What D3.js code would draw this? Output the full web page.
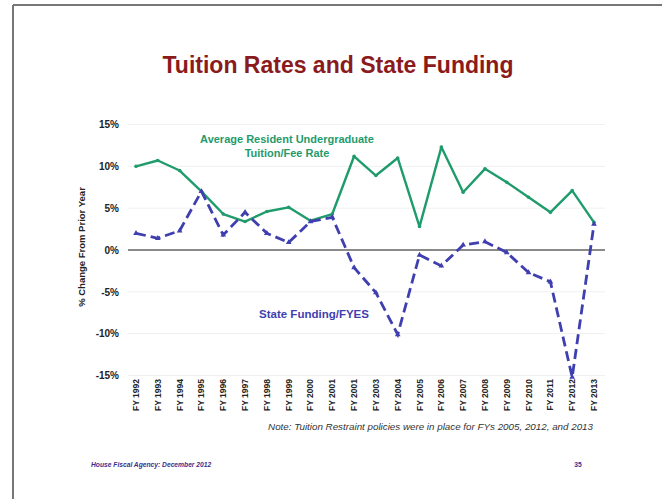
<!DOCTYPE html>
<html><head><meta charset="utf-8">
<script src="https://cdn.jsdelivr.net/npm/d3@7"></script>
<style>body{margin:0;background:#fff}svg{display:block}text{font-family:Arial,"Liberation Sans",sans-serif}</style>
</head><body>
<svg id="c" width="662" height="499"></svg>
<script>
const categories = ["FY 1992","FY 1993","FY 1994","FY 1995","FY 1996","FY 1997","FY 1998","FY 1999","FY 2000","FY 2001","FY 2001","FY 2003","FY 2004","FY 2005","FY 2006","FY 2007","FY 2008","FY 2009","FY 2010","FY 2011","FY 2012","FY 2013"];
const tuition = [10.0,10.7,9.5,7.0,4.3,3.4,4.6,5.1,3.5,4.3,11.2,8.9,11.0,2.8,12.3,6.9,9.7,8.1,6.3,4.5,7.1,3.3];
const stateFunding = [2.0,1.4,2.3,7.0,1.8,4.5,2.0,0.9,3.4,3.9,-2.1,-5.1,-10.1,-0.6,-1.9,0.6,1.0,-0.3,-2.7,-3.8,-15.2,3.1];
const yTicks = [-15,-10,-5,0,5,10,15];

const svg = d3.select("#c");
// slide frame
svg.append("line").attr("x1",13).attr("x2",13).attr("y1",5).attr("y2",499).attr("stroke","#777").attr("stroke-width",2);
svg.append("line").attr("x1",13).attr("x2",662).attr("y1",5).attr("y2",5).attr("stroke","#777").attr("stroke-width",2);

svg.append("text").attr("x",338).attr("y",73).attr("text-anchor","middle")
  .attr("font-size",23).attr("font-weight","bold").attr("fill","#8a1a1c").text("Tuition Rates and State Funding");

const x = d3.scalePoint().domain(d3.range(categories.length)).range([136,594]);
const y = d3.scaleLinear().domain([-15,15]).range([375.5,124.5]);

// faint gridlines
svg.append("g").selectAll("line").data(yTicks.filter(v=>v!==0)).join("line")
  .attr("x1",128).attr("x2",605).attr("y1",d=>y(d)).attr("y2",d=>y(d))
  .attr("stroke","#f0f0f0").attr("stroke-width",1);

// y axis
const ya = svg.append("g").attr("transform","translate(121,0)")
  .call(d3.axisLeft(y).tickValues(yTicks).tickSize(0).tickPadding(2).tickFormat(d=>d+"%"));
ya.select(".domain").remove();
ya.selectAll("text").attr("font-size",10).attr("font-weight","bold").attr("fill","#222").attr("font-family","Arial,'Liberation Sans',sans-serif");

svg.append("text").attr("transform","translate(85,247) rotate(-90)").attr("text-anchor","middle")
  .attr("font-size",9.5).attr("font-weight","bold").attr("fill","#222").text("% Change From Prior Year");

// zero line
svg.append("line").attr("x1",128).attr("x2",605).attr("y1",y(0)).attr("y2",y(0))
  .attr("stroke","#8a8a8a").attr("stroke-width",2);

// x labels
svg.append("g").selectAll("text").data(categories).join("text")
  .attr("transform",(d,i)=>`translate(${x(i)+3},379) rotate(-90)`)
  .attr("text-anchor","end").attr("font-size",8.5).attr("font-weight","bold").attr("fill","#222")
  .text(d=>d);

const line = d3.line().x((d,i)=>x(i)).y(d=>y(d));
const green = "#1f9b6c", blue = "#3f3fb0";

svg.append("path").datum(tuition).attr("d",line).attr("fill","none").attr("stroke",green).attr("stroke-width",2.4).attr("stroke-linejoin","round");
svg.append("g").selectAll("circle").data(tuition).join("circle")
  .attr("cx",(d,i)=>x(i)).attr("cy",d=>y(d)).attr("r",1.8).attr("fill",green);

svg.append("path").datum(stateFunding).attr("d",line).attr("fill","none").attr("stroke",blue).attr("stroke-width",2.8).attr("stroke-dasharray","10,5");
svg.append("g").selectAll("path").data(stateFunding).join("path")
  .attr("d",d3.symbol(d3.symbolTriangle,14))
  .attr("transform",(d,i)=>`translate(${x(i)},${y(d)})`).attr("fill",blue);

// series labels
svg.append("text").attr("x",287).attr("y",143).attr("text-anchor","middle").attr("font-size",11).attr("font-weight","bold").attr("fill",green).text("Average Resident Undergraduate");
svg.append("text").attr("x",287).attr("y",157).attr("text-anchor","middle").attr("font-size",11).attr("font-weight","bold").attr("fill",green).text("Tuition/Fee Rate");
svg.append("text").attr("x",314).attr("y",318).attr("text-anchor","middle").attr("font-size",11.5).attr("font-weight","bold").attr("fill",blue).text("State Funding/FYES");

// note
svg.append("text").attr("x",593).attr("y",430).attr("text-anchor","end").attr("font-size",9.8).attr("font-style","italic").attr("fill","#333")
  .text("Note: Tuition Restraint policies were in place for FYs 2005, 2012, and 2013");

// footer
svg.append("text").attr("x",91).attr("y",467).attr("font-size",6.7).attr("font-style","italic").attr("font-weight","bold").attr("fill","#3b2f8f").text("House Fiscal Agency:  December 2012");
svg.append("text").attr("x",578).attr("y",467).attr("text-anchor","middle").attr("font-size",6.7).attr("font-weight","bold").attr("fill","#3b2f8f").text("35");
</script>
</body></html>
